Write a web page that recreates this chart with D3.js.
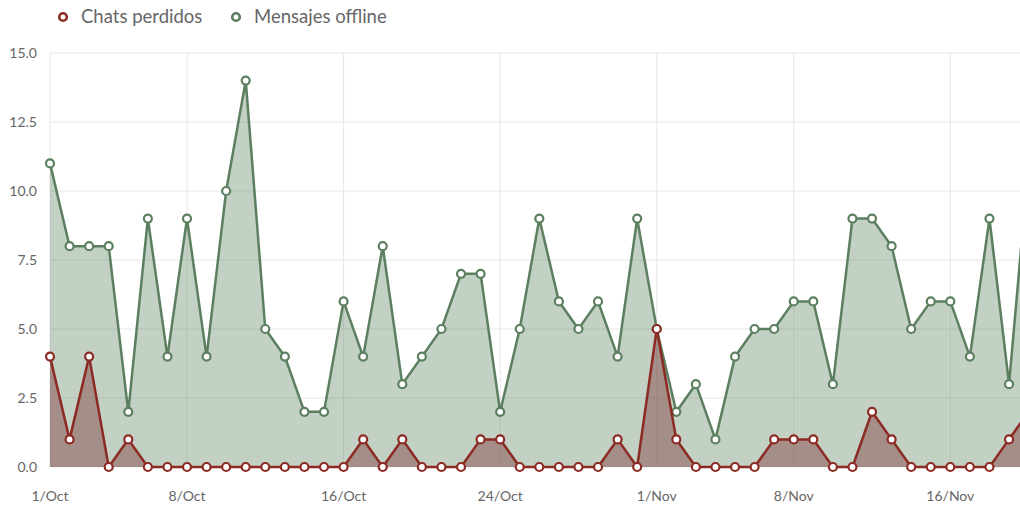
<!DOCTYPE html>
<html><head><meta charset="utf-8">
<script src="https://cdn.jsdelivr.net/npm/d3@7"></script>
<style>
body{margin:0;background:#fff;}
svg{display:block;font-family:Lato, "Open Sans", sans-serif;}
</style></head>
<body><svg id="c" width="1020" height="510"></svg>
<script>
const dates = d3.range(51).map(i => new Date(2023, 9, 1 + i));
const chatsPerdidos = [4,1,4,0,1,0,0,0,0,0,0,0,0,0,0,0,1,0,1,0,0,0,1,1,0,0,0,0,0,1,0,5,1,0,0,0,0,1,1,1,0,0,2,1,0,0,0,0,0,1,2];
const mensajesOffline = [11,8,8,8,2,9,4,9,4,10,14,5,4,2,2,6,4,8,3,4,5,7,7,2,5,9,6,5,6,4,9,5,2,3,1,4,5,5,6,6,3,9,9,8,5,6,6,4,9,3,11];
const yTicks = [0, 2.5, 5, 7.5, 10, 12.5, 15];
const xTickDays = [0, 7, 15, 23, 31, 38, 46];
const xTickLabels = ["1/Oct","8/Oct","16/Oct","24/Oct","1/Nov","8/Nov","16/Nov"];
const seriesNames = ["Chats perdidos", "Mensajes offline"];
const colors = ["#8c2a24", "#5b7f5f"];
const areaColors = ["#864b49", "#5b7f5f"];

const svg = d3.select("#c");
const mLeft = 50, mBottom = 467, mTop = 53;
const x = d3.scaleLinear().domain([0, 49.56]).range([mLeft, 1020]);
const y = d3.scaleLinear().domain([0, 15]).range([mBottom, mTop]);

// grid
svg.append("g").selectAll("line").data(yTicks).join("line")
  .attr("x1", mLeft).attr("x2", 1020).attr("y1", d => y(d)).attr("y2", d => y(d))
  .attr("stroke", "#e6e6e6").attr("stroke-width", 1);
svg.append("g").selectAll("line").data(xTickDays).join("line")
  .attr("x1", d => x(d)).attr("x2", d => x(d)).attr("y1", mTop).attr("y2", mBottom)
  .attr("stroke", "#e6e6e6").attr("stroke-width", 1);

// y labels
svg.append("g").selectAll("text").data(yTicks).join("text")
  .attr("x", 37).attr("y", d => y(d)).attr("dy", "0.35em").attr("text-anchor", "end")
  .attr("font-size", 14).attr("fill", "#666").text(d => d.toFixed(1));
// x labels
svg.append("g").selectAll("text").data(xTickDays).join("text")
  .attr("x", d => x(d)).attr("y", 501).attr("text-anchor", "middle")
  .attr("font-size", 14).attr("fill", "#666").text((d, i) => xTickLabels[i]);

const area = d3.area().x((d, i) => x(i)).y0(y(0)).y1(d => y(d));
const line = d3.line().x((d, i) => x(i)).y(d => y(d));

const all = [chatsPerdidos, mensajesOffline];
[1, 0].forEach(k => {
  svg.append("path").datum(all[k]).attr("d", area)
    .attr("fill", areaColors[k]).attr("fill-opacity", k === 1 ? 0.37 : 0.5);
});
[1, 0].forEach(k => {
  svg.append("path").datum(all[k]).attr("d", line)
    .attr("fill", "none").attr("stroke", colors[k]).attr("stroke-width", 2.5);
  svg.append("g").selectAll("circle").data(all[k]).join("circle")
    .attr("cx", (d, i) => x(i)).attr("cy", d => y(d)).attr("r", 4)
    .attr("fill", "#fff").attr("stroke", colors[k]).attr("stroke-width", 2.2);
});

// legend
const leg = [{cx: 63, tx: 81}, {cx: 236, tx: 254}];
leg.forEach((l, k) => {
  svg.append("circle").attr("cx", l.cx).attr("cy", 17).attr("r", 3.8)
    .attr("fill", "#fff").attr("stroke", colors[k]).attr("stroke-width", 2.6);
  svg.append("text").attr("x", l.tx).attr("y", 17).attr("dy", "0.35em")
    .attr("font-size", 18.5).attr("fill", "#666").text(seriesNames[k]);
});
</script></body></html>
